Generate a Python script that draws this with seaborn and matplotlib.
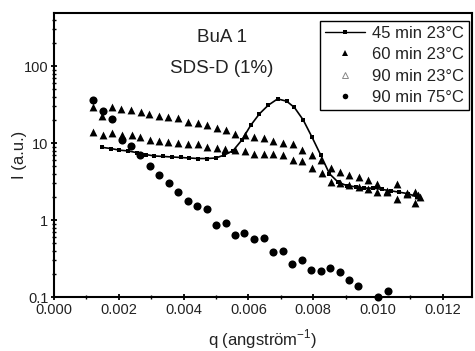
import numpy as np
import pandas as pd
import matplotlib
matplotlib.use("Agg")
import matplotlib.pyplot as plt
from matplotlib.lines import Line2D
from matplotlib.ticker import MultipleLocator, LogLocator, NullFormatter, FixedLocator, FixedFormatter
import seaborn as sns

# Scattering curves, q in 1/angstrom, intensity in arbitrary units
q_45 = [0.00148, 0.00175, 0.00202, 0.00229, 0.00256, 0.00283, 0.00310, 0.00337,
        0.00364, 0.00391, 0.00418, 0.00445, 0.00472, 0.00499, 0.00526, 0.00553,
        0.00580, 0.00607, 0.00634, 0.00661, 0.00690, 0.00718, 0.00742, 0.00769,
        0.00796, 0.00823, 0.00850, 0.00877, 0.00904, 0.00931, 0.00958, 0.00985,
        0.01012, 0.01039, 0.01066, 0.01093, 0.01120]
i_45 = [8.8, 8.5, 8.1, 7.9, 7.5, 7.1, 6.8, 6.7,
        6.6, 6.5, 6.4, 6.3, 6.3, 6.4, 7.0, 8.0,
        11.0, 17.0, 24.0, 31.0, 37.5, 35.0, 29.0, 20.0,
        12.0, 7.0, 4.0, 3.1, 2.8, 2.7, 2.6, 2.6,
        2.5, 2.4, 2.3, 2.2, 2.0]

q_60 = [0.00121, 0.00148, 0.00179, 0.00208, 0.00237, 0.00267, 0.00294, 0.00323,
        0.00353, 0.00383, 0.00413, 0.00443, 0.00472, 0.00502, 0.00531, 0.00559,
        0.00590, 0.00618, 0.00648, 0.00677, 0.00708, 0.00737, 0.00764, 0.00795,
        0.00824, 0.00854, 0.00883, 0.00911, 0.00942, 0.00970, 0.00998, 0.01028,
        0.01060, 0.01088, 0.01114, 0.01130]
i_60 = [29.2, 22.5, 29.0, 27.5, 27.3, 25.2, 24.0, 22.8,
        21.7, 21.3, 18.8, 18.0, 17.2, 15.5, 15.0, 13.0,
        12.6, 12.0, 11.7, 10.8, 10.1, 9.6, 8.1, 7.1,
        6.0, 4.8, 4.2, 3.9, 3.6, 3.3, 2.9, 2.4,
        2.9, 2.25, 2.3, 2.0]

q_90 = [0.00120, 0.00151, 0.00179, 0.00210, 0.00241, 0.00265, 0.00296, 0.00324,
        0.00352, 0.00383, 0.00414, 0.00444, 0.00472, 0.00503, 0.00528, 0.00559,
        0.00590, 0.00618, 0.00648, 0.00677, 0.00708, 0.00737, 0.00764, 0.00795,
        0.00826, 0.00854, 0.00883, 0.00911, 0.00942, 0.00970, 0.00998, 0.01028,
        0.01060, 0.01088, 0.01114, 0.01124]
i_90 = [13.8, 12.6, 13.5, 12.9, 12.6, 11.9, 10.9, 10.6,
        10.3, 10.0, 9.7, 9.7, 8.8, 8.6, 8.3, 8.1,
        8.0, 7.3, 7.3, 7.3, 7.1, 6.0, 5.8, 4.8,
        4.1, 3.1, 3.0, 2.85, 2.7, 2.5, 2.3, 2.3,
        1.9, 2.2, 1.65, 2.1]

q_75 = [0.00120, 0.00150, 0.00178, 0.00209, 0.00238, 0.00265, 0.00296, 0.00325,
        0.00355, 0.00384, 0.00413, 0.00442, 0.00471, 0.00500, 0.00530, 0.00559,
        0.00587, 0.00617, 0.00648, 0.00675, 0.00706, 0.00736, 0.00764, 0.00793,
        0.00823, 0.00852, 0.00883, 0.00910, 0.00939, 0.00999, 0.01032]
i_75 = [36.7, 26.3, 20.7, 11.1, 9.1, 6.9, 5.0, 3.8,
        3.0, 2.28, 1.76, 1.53, 1.39, 0.86, 0.92, 0.64,
        0.67, 0.57, 0.59, 0.38, 0.40, 0.27, 0.30, 0.225,
        0.22, 0.24, 0.21, 0.164, 0.14, 0.10, 0.121]

labels = ["45 min 23°C", "60 min 23°C", "90 min 23°C", "90 min 75°C"]
x_ticks = [0.000, 0.002, 0.004, 0.006, 0.008, 0.010, 0.012]
x_tick_labels = ["0.000", "0.002", "0.004", "0.006", "0.008", "0.010", "0.012"]
y_ticks = [0.1, 1, 10, 100]
y_tick_labels = ["0.1", "1", "10", "100"]

df45 = pd.DataFrame({"q": q_45, "I": i_45})
df60 = pd.DataFrame({"q": q_60, "I": i_60})
df90 = pd.DataFrame({"q": q_90, "I": i_90})
df75 = pd.DataFrame({"q": q_75, "I": i_75})

sns.set_style("ticks")
plt.rcParams["font.family"] = ["Liberation Sans", "DejaVu Sans"]
plt.rcParams["mathtext.fontset"] = "custom"
plt.rcParams["mathtext.rm"] = "Liberation Sans"

fig = plt.figure(figsize=(4.75, 3.51), dpi=100)
ax = fig.add_axes([0.1137, 0.1538, 0.8800, 0.8092])

sns.lineplot(data=df45, x="q", y="I", ax=ax, color="black", lw=1.2,
             marker="s", markersize=2.2, markeredgewidth=0, zorder=3)
sns.scatterplot(data=df60, x="q", y="I", ax=ax, color="black", marker="^",
                s=32, linewidth=0, zorder=4, clip_on=False)
sns.scatterplot(data=df90, x="q", y="I", ax=ax, color="black", marker="^",
                s=32, linewidth=0, zorder=4, clip_on=False)
sns.scatterplot(data=df75, x="q", y="I", ax=ax, color="black", marker="o",
                s=34, linewidth=0, zorder=4, clip_on=False)

ax.set_yscale("log")
ax.set_xlim(0, 0.0129)
ax.set_ylim(0.1, 490)

ax.xaxis.set_major_locator(FixedLocator(x_ticks))
ax.xaxis.set_major_formatter(FixedFormatter(x_tick_labels))
ax.xaxis.set_minor_locator(MultipleLocator(0.001))
ax.yaxis.set_major_locator(FixedLocator(y_ticks))
ax.yaxis.set_major_formatter(FixedFormatter(y_tick_labels))
ax.yaxis.set_minor_locator(LogLocator(base=10, subs=np.arange(2, 10)))
ax.yaxis.set_minor_formatter(NullFormatter())

ax.tick_params(axis="both", which="major", direction="inout", length=5,
               width=1.3, labelsize=10.5, color="black", labelcolor="#222222", pad=1.5)
ax.tick_params(axis="both", which="minor", direction="inout", length=3,
               width=1.0, color="black")
for s in ax.spines.values():
    s.set_visible(True)
    s.set_linewidth(1.5)
    s.set_color("black")

ax.set_xlabel("q (angstr\u00f6m$^{-1}$)", fontsize=12, color="#222222")
ax.set_ylabel("I (a.u.)", fontsize=12, color="#222222")
ax.xaxis.set_label_coords(0.5, -0.108)
ax.yaxis.set_label_coords(-0.064, 0.5)

ax.text(0.402, 0.915, "BuA 1", transform=ax.transAxes, ha="center", va="center",
        fontsize=13.5, color="#222222")
ax.text(0.402, 0.806, "SDS-D (1%)", transform=ax.transAxes, ha="center", va="center",
        fontsize=13.5, color="#222222")

handles = [
    Line2D([], [], color="black", lw=1.0, marker="s", markersize=2.5, markeredgewidth=0),
    Line2D([], [], color="black", lw=0, marker="^", markersize=4, markeredgewidth=0),
    Line2D([], [], color="#888888", lw=0, marker="^", markersize=4,
           markerfacecolor="none", markeredgewidth=0.7),
    Line2D([], [], color="black", lw=0, marker="o", markersize=4, markeredgewidth=0),
]
leg = ax.legend(handles, labels, loc="upper right", bbox_to_anchor=(0.993, 0.972),
                fontsize=12, frameon=True, fancybox=False, framealpha=1,
                edgecolor="black", borderpad=0.3, labelspacing=0.38,
                handlelength=2.4, handletextpad=0.45, borderaxespad=0)
leg.get_frame().set_linewidth(1.0)
for t in leg.get_texts():
    t.set_color("#222222")

fig.savefig("out.png", dpi=100)
